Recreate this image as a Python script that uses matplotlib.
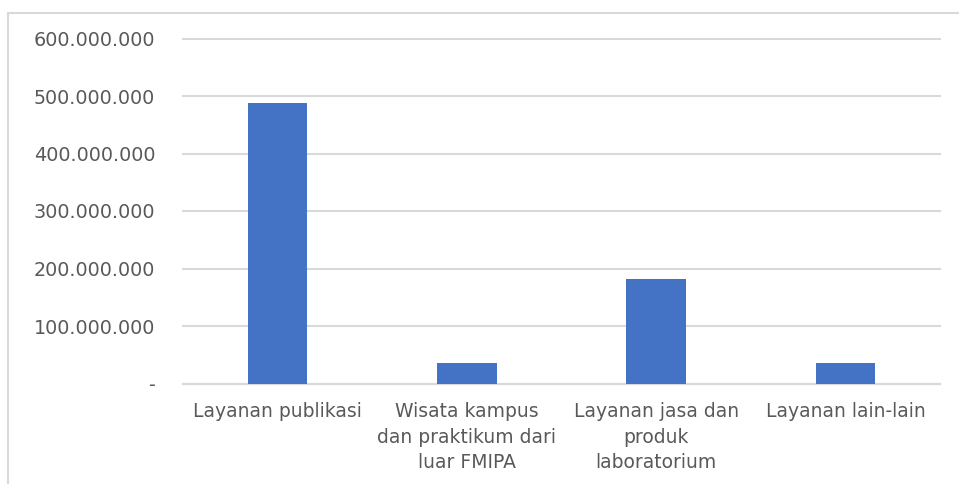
import matplotlib.pyplot as plt
from matplotlib.ticker import FuncFormatter, MultipleLocator
from matplotlib.patches import Rectangle

# data
categories = ["Layanan publikasi",
              "Wisata kampus\ndan praktikum dari\nluar FMIPA",
              "Layanan jasa dan\nproduk\nlaboratorium",
              "Layanan lain-lain"]
values = [487000000, 36000000, 181000000, 36000000]


def rupiah(v, pos):
    if v == 0:
        return "-"
    return "{:,.0f}".format(v).replace(",", ".")


fig = plt.figure(figsize=(9.59, 4.84), dpi=100)
ax = fig.add_axes([183 / 959, 1 - 383.5 / 484, (940 - 183) / 959, (383.5 - 38.5) / 484])

# chart border (cropped at bottom and right)
fig.patches.append(Rectangle((8 / 959, -0.1), 1.1, 1.1 - 13 / 484,
                             transform=fig.transFigure, fill=False,
                             edgecolor="#d9d9d9", linewidth=1.5))

x = range(len(categories))
ax.bar(x, values, width=0.315, color="#4472C4", zorder=3)

ax.set_xlim(-0.5, 3.5)
ax.set_ylim(0, 600000000)
ax.yaxis.set_major_locator(MultipleLocator(100000000))
ax.yaxis.set_major_formatter(FuncFormatter(rupiah))
ax.grid(axis="y", color="#d9d9d9", linewidth=1.5, zorder=0)
for gl in ax.get_ygridlines():
    gl.set_clip_on(False)

for s in ["top", "right", "left"]:
    ax.spines[s].set_visible(False)
ax.spines["bottom"].set_color("#d9d9d9")
ax.spines["bottom"].set_linewidth(1.5)

ax.tick_params(axis="y", length=0, pad=20, labelsize=13.8, labelcolor="#595959")
ax.tick_params(axis="x", length=0, pad=13.5)
ax.set_xticks(list(x))
ax.set_xticklabels(categories, fontsize=13.5, color="#595959", linespacing=1.42)

fig.savefig("out.png", dpi=100)
